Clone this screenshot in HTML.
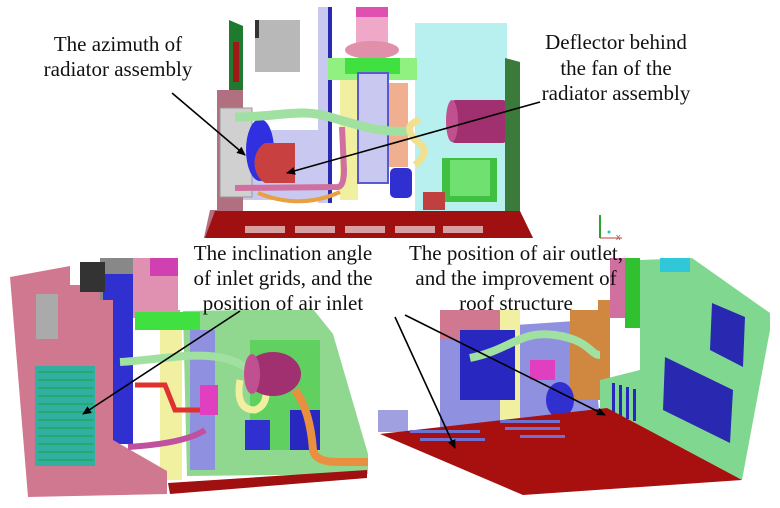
<!DOCTYPE html>
<html><head><meta charset="utf-8"><style>
html,body{margin:0;padding:0;background:#fff;width:780px;height:508px;overflow:hidden}
svg{display:block}
text{font-family:"Liberation Serif",serif;font-size:21px;fill:#111}
</style></head><body>
<svg width="780" height="508" viewBox="0 0 780 508" xmlns="http://www.w3.org/2000/svg">
<defs><marker id="a" markerWidth="10" markerHeight="10" refX="8" refY="5" orient="auto" markerUnits="userSpaceOnUse"><path d="M0,1 L9,5 L0,9 z" fill="#000"/></marker></defs>

<!-- TOP IMAGE -->
<rect x="415" y="23" width="92" height="188" fill="#b8f0f0"/>
<rect x="318" y="7" width="14" height="196" fill="#c8c8f0"/><rect x="328" y="7" width="4" height="196" fill="#2a2ab0"/>
<rect x="255" y="20" width="45" height="52" fill="#b8b8b8"/><rect x="255" y="20" width="4" height="18" fill="#333"/>
<polygon points="229,20 243,26 243,93 229,93" fill="#1f7a2f"/><rect x="233" y="42" width="6" height="40" fill="#a01818"/>
<polygon points="217,90 243,90 243,240 203,242 210,210 217,210" fill="#b07080"/>
<rect x="243" y="130" width="80" height="70" fill="#c8c8f0"/>
<rect x="356" y="7" width="32" height="40" fill="#f0a8c8"/><rect x="356" y="7" width="32" height="10" fill="#e050b0"/>
<ellipse cx="372" cy="50" rx="27" ry="9" fill="#e090a8"/>
<rect x="328" y="58" width="89" height="22" fill="#90f080"/><rect x="345" y="58" width="55" height="16" fill="#40e040"/>
<rect x="340" y="80" width="18" height="120" fill="#f0f0a0"/>
<rect x="385" y="83" width="23" height="84" fill="#f0b090"/>
<rect x="358" y="73" width="30" height="110" fill="#c8c8f0" stroke="#5a5ad0" stroke-width="2"/>
<rect x="220" y="108" width="32" height="89" fill="#d0d0d0" stroke="#999"/>
<ellipse cx="260" cy="150" rx="14" ry="31" fill="#3030e0"/>
<path d="M265,143 h30 v40 h-30 a18,22 0 0 1 0,-40z" fill="#c84040"/>
<path d="M235,188 L338,187 Q344,186 344,170 L342,127" stroke="#d070a0" stroke-width="6" fill="none"/>
<path d="M258,193 Q300,210 340,192" stroke="#e8a040" stroke-width="4" fill="none"/>
<path d="M235,117 C280,117 300,108 330,117 S390,135 412,130" stroke="#a0e0a0" stroke-width="9" fill="none"/>
<path d="M420,120 q-18,5 -5,20 q18,10 0,25" stroke="#f0e090" stroke-width="7" fill="none"/>
<rect x="448" y="100" width="62" height="43" rx="8" fill="#a03070"/><ellipse cx="452" cy="121" rx="6" ry="21" fill="#c05090"/>
<rect x="442" y="158" width="55" height="44" fill="#40c040"/><rect x="450" y="160" width="40" height="36" fill="#70e070"/>
<rect x="390" y="168" width="22" height="30" rx="5" fill="#3030d0"/>
<rect x="423" y="192" width="22" height="18" fill="#c04040"/>
<polygon points="505,58 520,62 520,233 505,233" fill="#3a7a3a"/>
<polygon points="215,211 520,211 535,242 203,243" fill="#a01010"/>
<g fill="#d8a0a0"><rect x="245" y="226" width="40" height="7"/><rect x="295" y="226" width="40" height="7"/><rect x="345" y="226" width="40" height="7"/><rect x="395" y="226" width="40" height="7"/><rect x="443" y="226" width="40" height="7"/></g>
<line x1="600" y1="215" x2="600" y2="238" stroke="#30a030" stroke-width="2"/><line x1="600" y1="238" x2="622" y2="238" stroke="#c04040" stroke-width="1"/><text x="616" y="240" style="font-size:9px;fill:#c04040;font-family:'Liberation Sans',sans-serif">x</text><circle cx="609" cy="232" r="1.5" fill="#30c0c0"/>

<!-- BOTTOM LEFT -->
<polygon points="183,311 313,309 333,334 368,454 368,474 187,476" fill="#90d890"/>
<rect x="100" y="258" width="80" height="50" fill="#888"/>
<rect x="133" y="258" width="47" height="60" fill="#e090b0"/><rect x="150" y="258" width="30" height="18" fill="#d040b0"/>
<rect x="135" y="312" width="65" height="18" fill="#40e040"/>
<rect x="160" y="330" width="22" height="150" fill="#f0f0a0"/>
<rect x="190" y="330" width="25" height="140" fill="#9090e0"/>
<rect x="250" y="340" width="70" height="110" fill="#60d060"/>
<rect x="290" y="410" width="30" height="40" fill="#2828c0"/>
<rect x="103" y="274" width="30" height="170" fill="#3030d0"/>
<polygon points="10,277 70,266 70,285 100,285 100,300 113,300 113,440 167,471 167,494 28,497" fill="#d07890"/>
<rect x="36" y="294" width="22" height="45" fill="#aaa"/>
<rect x="35" y="366" width="60" height="100" fill="#30b0a0"/>
<g stroke="#20a040" stroke-width="1">
<line x1="38" y1="372" x2="93" y2="372"/><line x1="38" y1="380" x2="93" y2="380"/><line x1="38" y1="388" x2="93" y2="388"/><line x1="38" y1="396" x2="93" y2="396"/><line x1="38" y1="404" x2="93" y2="404"/><line x1="38" y1="412" x2="93" y2="412"/><line x1="38" y1="420" x2="93" y2="420"/><line x1="38" y1="428" x2="93" y2="428"/><line x1="38" y1="436" x2="93" y2="436"/><line x1="38" y1="444" x2="93" y2="444"/><line x1="38" y1="452" x2="93" y2="452"/><line x1="38" y1="460" x2="93" y2="460"/></g>
<rect x="80" y="262" width="25" height="30" fill="#333"/>
<path d="M120,362 C160,360 200,350 230,360 S250,380 250,385" stroke="#a0e0a0" stroke-width="8" fill="none"/>
<path d="M135,385 h30 l10,25 h30" stroke="#e03030" stroke-width="5" fill="none"/>
<path d="M240,380 q-5,30 15,30 q15,-5 10,-30" stroke="#f0f0a0" stroke-width="7" fill="none"/>
<rect x="200" y="385" width="18" height="30" fill="#e040c0"/>
<rect x="245" y="420" width="25" height="30" fill="#3030d0"/>
<path d="M128,447 C160,445 190,440 205,430" stroke="#c050a0" stroke-width="6" fill="none"/>
<ellipse cx="273" cy="374" rx="28" ry="22" fill="#a03070"/><ellipse cx="252" cy="374" rx="8" ry="20" fill="#c05090"/>
<path d="M295,390 q15,20 18,60 q2,12 25,12 h30" stroke="#e89040" stroke-width="8" fill="none"/>
<polygon points="168,483 367,470 367,478 170,494" fill="#a01010"/>

<!-- BOTTOM RIGHT -->
<polygon points="440,330 590,320 600,420 440,430" fill="#9090e0"/>
<rect x="440" y="300" width="60" height="40" fill="#d07890"/>
<rect x="500" y="310" width="20" height="110" fill="#f0f0a0"/>
<rect x="460" y="330" width="55" height="70" fill="#2828c0"/>
<rect x="570" y="300" width="40" height="100" fill="#d08840"/>
<rect x="610" y="258" width="28" height="60" fill="#d070a0"/>
<polygon points="640,260 692,258 770,313 770,330 742,480 600,408 600,380 640,370" fill="#80d890"/>
<rect x="625" y="258" width="15" height="70" fill="#30c030"/><rect x="660" y="258" width="30" height="14" fill="#30c8d8"/>
<polygon points="712,303 745,317 743,367 710,350" fill="#2828b0"/>
<polygon points="665,357 733,390 730,443 663,410" fill="#2828b0"/>
<g fill="#2828c0"><rect x="612" y="383" width="3" height="30"/><rect x="619" y="385" width="3" height="32"/><rect x="626" y="387" width="3" height="32"/><rect x="633" y="389" width="3" height="32"/></g>
<rect x="378" y="410" width="30" height="22" fill="#a0a0e0"/>
<path d="M470,358 C510,350 520,330 555,335 S590,355 600,355" stroke="#a0e0a0" stroke-width="8" fill="none"/>
<rect x="530" y="360" width="25" height="20" fill="#e040c0"/>
<ellipse cx="560" cy="400" rx="14" ry="18" fill="#3030d0"/>
<polygon points="380,434 607,408 742,480 523,495" fill="#a81010"/>
<g fill="#7070d0"><rect x="410" y="430" width="70" height="3"/><rect x="420" y="438" width="65" height="3"/><rect x="500" y="420" width="60" height="3"/><rect x="505" y="427" width="55" height="3"/><rect x="520" y="435" width="45" height="3"/></g>

<!-- white label backdrops -->
<rect x="178" y="238" width="420" height="72" fill="#fff"/>

<!-- arrows -->
<g stroke="#000" stroke-width="1.6" marker-end="url(#a)">
<line x1="172" y1="93" x2="245" y2="155"/>
<line x1="540" y1="102" x2="287" y2="173"/>
<line x1="240" y1="311" x2="83" y2="414"/>
<line x1="395" y1="317" x2="455" y2="448"/>
<line x1="405" y1="315" x2="605" y2="415"/>
</g>

<!-- labels -->
<g text-anchor="middle">
<text x="118" y="51">The azimuth of</text>
<text x="118" y="76">radiator assembly</text>
<text x="616" y="49">Deflector behind</text>
<text x="616" y="75">the fan of the</text>
<text x="616" y="100">radiator assembly</text>
<text x="283" y="260">The inclination angle</text>
<text x="283" y="285">of inlet grids, and the</text>
<text x="283" y="310">position of air inlet</text>
<text x="516" y="260">The position of air  outlet,</text>
<text x="516" y="285">and the improvement of</text>
<text x="516" y="310">roof structure</text>
</g>
</svg>
</body></html>
